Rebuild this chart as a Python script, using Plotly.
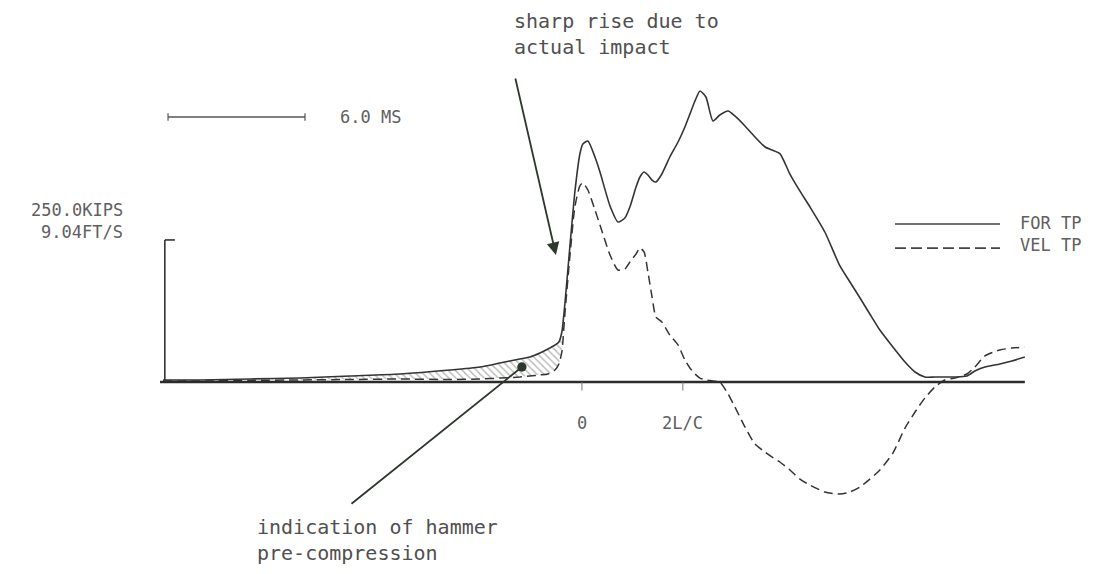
import plotly.graph_objects as go

# Pile driving record: force and velocity at the transducer position (TP)
TIME_MS = [-18.35, -16.73, -14.54, -12.35, -10.16, -7.97, -5.78, -4.47, -3.59, -2.72,
           -2.28, -1.84, -1.49, -1.18, -1.01, -0.88, -0.74, -0.53, -0.31, -0.09,
           0.04, 0.26, 0.57, 0.79, 1.23, 1.58, 1.88, 2.10, 2.37, 2.54,
           2.72, 2.89, 3.07, 3.24, 3.50, 3.85, 4.21, 4.51, 4.73, 4.95,
           5.17, 5.43, 5.74, 6.04, 6.40, 6.70, 7.14, 7.58, 8.02, 8.32,
           8.67, 9.11, 9.55, 9.99, 10.64, 11.30, 11.74, 12.18, 12.61, 13.05,
           13.62, 14.15, 14.59, 15.02, 15.46, 15.90, 16.34, 16.86, 17.21, 17.65,
           18.31, 18.83, 19.40]

FORCE_KIPS = [3.5, 3.5, 5.3, 7.0, 10.6, 14.1, 21.1, 26.4, 33.4, 40.5,
              44.0, 51.0, 58.1, 65.1, 70.4, 88.0, 140.8, 237.6, 334.4, 401.3,
              418.9, 424.2, 396.0, 369.6, 309.8, 281.6, 288.6, 308.0, 343.2, 360.8,
              369.6, 364.3, 355.5, 352.0, 366.1, 396.0, 422.4, 448.8, 471.7, 494.6,
              512.2, 501.6, 459.4, 469.9, 477.0, 468.2, 450.6, 431.2, 413.6, 408.3,
              402.0, 366.0, 336.0, 308.0, 264.0, 204.2, 176.0, 147.8, 119.7, 91.5,
              61.6, 35.2, 17.6, 8.8, 8.8, 8.8, 8.8, 10.6, 19.4, 26.4,
              31.7, 37.0, 44.0]

VEL_FTS = [0.06, 0.06, 0.10, 0.13, 0.16, 0.19, 0.16, 0.19, 0.25, 0.32,
           0.38, 0.45, 0.51, 0.76, 1.15, 1.91, 4.46, 7.96, 11.14, 12.48,
           12.67, 12.22, 10.95, 9.99, 8.08, 7.13, 7.19, 7.64, 8.15, 8.53,
           8.28, 7.00, 5.41, 4.14, 3.82, 2.99, 2.36, 1.40, 0.89, 0.51,
           0.25, 0.13, 0.06, 0.00, -0.76, -1.59, -2.86, -3.95, -4.46, -4.77,
           -5.09, -5.60, -6.18, -6.56, -7.00, -7.13, -7.00, -6.68, -6.18, -5.60,
           -4.52, -2.93, -1.91, -1.02, -0.32, 0.13, 0.25, 0.51, 0.95, 1.66,
           2.04, 2.16, 2.23]

FULL_SCALE_KIPS = 250.0
FULL_SCALE_FTS = 9.04
T_2LC_MS = 4.42
SCALE_BAR_MS = 6.0
PRECOMP_WINDOW_MS = (-12.5, -0.8)

# velocity drawn in force units (proportionality Z = F/v at full scale)
Z = FULL_SCALE_KIPS / FULL_SCALE_FTS
VEL_AS_FORCE = [v * Z for v in VEL_FTS]

INK = "#333533"
TEXT_INK = "#505050"
PLOT_FONT = "DejaVu Sans Mono"

X_RANGE = [-25.49, 23.13]
Y_RANGE = [-337.9, 672.3]

fig = go.Figure()

# hatched band between force and velocity before impact
lo, hi = PRECOMP_WINDOW_MS
idx = [i for i, t in enumerate(TIME_MS) if lo <= t <= hi]
band_t = [TIME_MS[i] for i in idx]
fig.add_trace(go.Scatter(x=band_t, y=[VEL_AS_FORCE[i] for i in idx], mode="lines",
                         line=dict(width=0), hoverinfo="skip", showlegend=False))
fig.add_trace(go.Scatter(x=band_t, y=[FORCE_KIPS[i] for i in idx], mode="lines",
                         line=dict(width=0), fill="tonexty", fillcolor="rgba(0,0,0,0)",
                         fillpattern=dict(shape="\\", fgcolor="#6e6e6e", bgcolor="white",
                                          size=5, solidity=0.28),
                         hoverinfo="skip", showlegend=False))

fig.add_trace(go.Scatter(x=TIME_MS, y=FORCE_KIPS, mode="lines", name="FOR TP",
                         line=dict(color=INK, width=1.6, shape="spline", smoothing=0.6),
                         showlegend=False))
fig.add_trace(go.Scatter(x=TIME_MS, y=VEL_AS_FORCE, mode="lines", name="VEL TP",
                         line=dict(color=INK, width=1.5, dash="9px,5px",
                                   shape="spline", smoothing=0.6),
                         showlegend=False))

shapes = []
# time axis (zero line)
shapes.append(dict(type="line", xref="x", yref="y", x0=-18.48, x1=19.40, y0=0, y1=0,
                   line=dict(color="#2b2b2b", width=2.6)))
# force/velocity full-scale bracket
shapes.append(dict(type="line", xref="x", yref="y", x0=-18.27, x1=-18.27, y0=0,
                   y1=FULL_SCALE_KIPS, line=dict(color=INK, width=1.6)))
shapes.append(dict(type="line", xref="x", yref="y", x0=-18.27, x1=-17.83,
                   y0=FULL_SCALE_KIPS, y1=FULL_SCALE_KIPS, line=dict(color=INK, width=1.6)))
# ticks at impact and at 2L/c
for t in (0.0, T_2LC_MS):
    shapes.append(dict(type="line", xref="x", yref="y", x0=t, x1=t, y0=0, y1=-15,
                       line=dict(color="#777", width=1)))
# time scale bar
bar_x0 = -18.13
shapes.append(dict(type="line", xref="x", yref="paper", x0=bar_x0, x1=bar_x0 + SCALE_BAR_MS,
                   y0=0.7962, y1=0.7962, line=dict(color="#555", width=1.3)))
for xb in (bar_x0, bar_x0 + SCALE_BAR_MS):
    shapes.append(dict(type="line", xref="x", yref="paper", x0=xb, x1=xb,
                       y0=0.7895, y1=0.8029, line=dict(color="#555", width=1.2)))
# key
shapes.append(dict(type="line", xref="paper", yref="paper", x0=0.8063, x1=0.9009,
                   y0=0.6098, y1=0.6098, line=dict(color="#444", width=1.4)))
shapes.append(dict(type="line", xref="paper", yref="paper", x0=0.8063, x1=0.9009,
                   y0=0.5679, y1=0.5679, line=dict(color="#444", width=1.8, dash="11px,5px")))

plot_font = dict(family=PLOT_FONT, size=17, color="#606060")
note_font = dict(family=PLOT_FONT, size=20, color=TEXT_INK)

annotations = [
    dict(text="6.0 MS", xref="paper", yref="paper", x=0.3045, y=0.7962,
         xanchor="left", yanchor="middle", showarrow=False, font=plot_font),
    dict(text="250.0KIPS", xref="paper", yref="paper", x=0.1126, y=0.6341,
         xanchor="right", yanchor="middle", showarrow=False, font=plot_font),
    dict(text="9.04FT/S", xref="paper", yref="paper", x=0.1126, y=0.5958,
         xanchor="right", yanchor="middle", showarrow=False, font=plot_font),
    dict(text="0", xref="x", yref="y", x=0.0, y=-72, xanchor="center", yanchor="middle",
         showarrow=False, font=plot_font),
    dict(text="2L/C", xref="x", yref="y", x=T_2LC_MS, y=-72, xanchor="center",
         yanchor="middle", showarrow=False, font=plot_font),
    dict(text="FOR TP", xref="paper", yref="paper", x=0.9171, y=0.6115,
         xanchor="left", yanchor="middle", showarrow=False, font=plot_font),
    dict(text="VEL TP", xref="paper", yref="paper", x=0.9171, y=0.5732,
         xanchor="left", yanchor="middle", showarrow=False, font=plot_font),
    # notes
    dict(text="sharp rise due to<br>actual impact", xref="paper", yref="paper",
         x=0.461, y=0.9408, xanchor="left", yanchor="middle", align="left",
         showarrow=False, font=note_font),
    dict(text="indication of hammer<br>pre-compression", xref="paper", yref="paper",
         x=0.2297, y=0.0592, xanchor="left", yanchor="middle", align="left",
         showarrow=False, font=note_font),
    dict(text="", xref="x", yref="y", x=-1.14, y=223.5, axref="x", ayref="y",
         ax=-2.93, ay=536.8, showarrow=True, arrowhead=2, arrowsize=1.4,
         arrowwidth=1.8, arrowcolor="#2c382c"),
    dict(text="", xref="x", yref="y", x=-2.63, y=26.4, axref="x", ayref="y",
         ax=-10.16, ay=-216.5, showarrow=True, arrowhead=6, arrowsize=1.3,
         arrowwidth=1.8, arrowcolor="#2c382c"),
]

fig.update_layout(
    width=1110, height=574,
    margin=dict(l=0, r=0, t=0, b=0),
    paper_bgcolor="white", plot_bgcolor="white",
    xaxis=dict(range=X_RANGE, visible=False, fixedrange=True),
    yaxis=dict(range=Y_RANGE, visible=False, fixedrange=True),
    shapes=shapes, annotations=annotations,
    showlegend=False,
)

fig.write_html("out.html")
